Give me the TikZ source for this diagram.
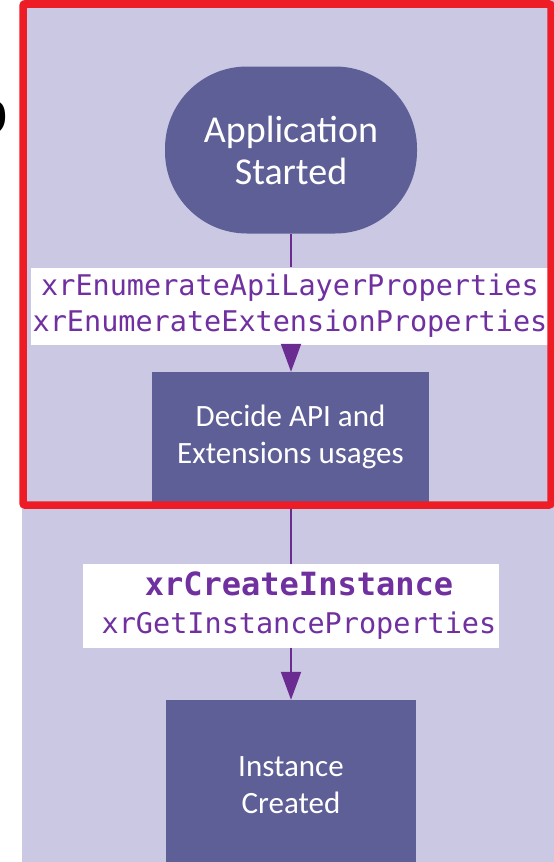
\documentclass[tikz,border=0pt]{standalone}
\usepackage{fontspec}
\setmainfont{Carlito}
\newfontfamily\codefont{DejaVu Sans Mono}
\newfontfamily\serifb{Liberation Serif}
\usetikzlibrary{arrows.meta}
\definecolor{lav}{HTML}{CBC8E4}
\definecolor{boxc}{HTML}{5F5F97}
\definecolor{purp}{HTML}{7030A0}
\definecolor{linec}{HTML}{6A2C91}
\definecolor{frame}{HTML}{EE1C25}
\tikzset{
  stepbox/.style={fill=boxc, draw=none, text=white, align=center, inner sep=0pt,
    font=\fontsize{31}{37}\selectfont},
  apibox/.style={fill=white, draw=none, text=purp, align=center, inner sep=0pt,
    font=\codefont\fontsize{28.5}{36}\selectfont},
  conn/.style={draw=linec, line width=2pt},
  arr/.style={conn, -{Triangle[width=20pt,length=28pt]}},
}
\begin{document}
\begin{tikzpicture}[x=1pt,y=-1pt]
\useasboundingbox (0,0) rectangle (554,862);
\fill[lav] (22,0) rectangle (554,862);
\node[font=\serifb\bfseries\fontsize{72}{72}\selectfont, anchor=base east, inner sep=0pt] (lbl) at (9,134) {b};
\node[stepbox, minimum width=252pt, minimum height=167pt, rounded corners=82pt,
  font=\fontsize{38}{42}\selectfont] (start) at (291,150) {Application\\Started};
\node[apibox, minimum width=519pt, minimum height=77pt] (api1) at (290,306)
  {xrEnumerateApiLayerProperties\\xrEnumerateExtensionProperties};
\node[stepbox, minimum width=277pt, minimum height=130pt] (decide) at (290.5,437)
  {Decide API and\\Extensions usages};
\node[apibox, minimum width=416pt, minimum height=84pt] (api2) at (291,606)
  {\hspace*{16pt}{\bfseries\fontsize{32}{36}\selectfont xrCreateInstance}\\[2pt]\hspace*{16pt}xrGetInstanceProperties};
\node[stepbox, minimum width=250pt, minimum height=170pt] (inst) at (291,785)
  {Instance\\Created};
\draw[conn] (start.south) -- (start.south |- api1.north);
\draw[arr] (start.south |- api1.south) -- (start.south |- decide.north);
\draw[conn] (start.south |- decide.south) -- (start.south |- api2.north);
\draw[arr] (api2.south) -- (inst.north);
\draw[frame, line width=7.5pt, rounded corners=2pt] (23,4) rectangle (551,505);
\end{tikzpicture}
\end{document}
